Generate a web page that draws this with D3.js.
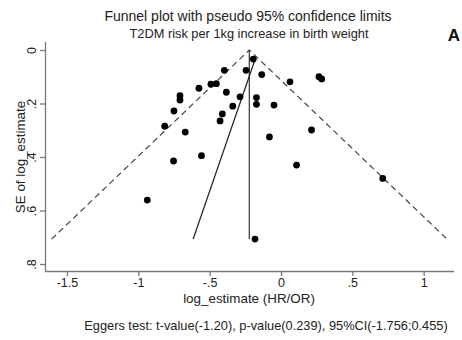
<!DOCTYPE html>
<html><head><meta charset="utf-8">
<script src="https://cdn.jsdelivr.net/npm/d3@7"></script>
<style>body{margin:0;background:#fff}svg{display:block;font-family:"Liberation Sans",Arial,sans-serif}</style>
</head><body><svg id="c" width="462" height="340"></svg>
<script>
const logEstimate = [-0.194,-0.397,-0.245,-0.135,0.063,0.266,0.285,-0.575,-0.491,-0.453,-0.383,-0.708,-0.708,-0.287,-0.172,-0.172,-0.338,-0.049,-0.750,-0.411,-0.427,-0.815,-0.671,-0.081,0.214,0.109,0.713,-0.753,-0.557,-0.937,-0.182];
const seLogEstimate = [0.034,0.076,0.076,0.092,0.119,0.100,0.108,0.143,0.128,0.126,0.158,0.171,0.187,0.175,0.178,0.203,0.210,0.206,0.228,0.239,0.265,0.285,0.307,0.325,0.299,0.430,0.480,0.415,0.395,0.561,0.707];
const pooledEstimate = -0.222;
const eggerIntercept = -0.159, eggerSlope = -0.646;
const xTicks = [-1.5,-1,-0.5,0,0.5,1];
const xTickLabels = ["-1.5","-1","-.5","0",".5","1"];
const yTicks = [0,0.2,0.4,0.6,0.8];
const yTickLabels = ["0",".2",".4",".6",".8"];

const svg = d3.select("#c");
const x = d3.scaleLinear().domain([0,1]).range([281,423.7]);
const y = d3.scaleLinear().domain([0,0.8]).range([50,264]);
const seMax = d3.max(seLogEstimate), seMin = d3.min(seLogEstimate);

// axes
const xAxis = d3.axisBottom(x).tickValues(xTicks).tickFormat((d,i)=>xTickLabels[i]).tickSize(5).tickSizeOuter(0);
const gx = svg.append("g").attr("transform","translate(0,271)").call(xAxis);
gx.select(".domain").attr("d","M45,0.5H454");
const yAxis = d3.axisLeft(y).tickValues(yTicks).tickFormat((d,i)=>yTickLabels[i]).tickSize(5).tickSizeOuter(0);
const gy = svg.append("g").attr("transform","translate(45,0)").call(yAxis);
gy.select(".domain").attr("d","M0.5,42V271");
[gx,gy].forEach(g=>{g.selectAll(".domain,line").attr("stroke","#777").attr("stroke-width",1.3);
  g.selectAll("text").attr("fill","#222").style("font-size","12.5px");});
gx.selectAll("text").attr("dy","0.71em").attr("y",7);
gy.selectAll(".tick text").attr("x",0).attr("y",0).attr("text-anchor","middle")
  .attr("transform","translate(-9,0) rotate(-90)").attr("dy","0");

// funnel lines
const lineGen = d3.line().x(d=>x(d[0])).y(d=>y(d[1]));
const funnel = [[pooledEstimate-1.96*seMax,seMax],[pooledEstimate,0],[pooledEstimate+1.96*seMax,seMax]];
svg.append("path").attr("d",lineGen(funnel)).attr("fill","none").attr("stroke","#444").attr("stroke-width",1.2).attr("stroke-dasharray","6,4");
svg.append("path").attr("d",lineGen([[pooledEstimate,0],[pooledEstimate,seMax]])).attr("fill","none").attr("stroke","#444").attr("stroke-width",1.3);
svg.append("path").attr("d",lineGen([[eggerIntercept+eggerSlope*seMin,seMin],[eggerIntercept+eggerSlope*seMax,seMax]])).attr("fill","none").attr("stroke","#222").attr("stroke-width",1.3);

// points
svg.append("g").selectAll("circle").data(logEstimate).join("circle")
  .attr("cx",d=>x(d)).attr("cy",(d,i)=>y(seLogEstimate[i])).attr("r",3.4).attr("fill","#000");

// texts
svg.append("text").attr("x",248).attr("y",20.5).attr("text-anchor","middle").style("font-size","14px").attr("fill","#222").text("Funnel plot with pseudo 95% confidence limits");
svg.append("text").attr("x",249).attr("y",38).attr("text-anchor","middle").style("font-size","12.8px").attr("fill","#222").text("T2DM risk per 1kg increase in birth weight");
svg.append("text").attr("x",454).attr("y",41).attr("text-anchor","middle").style("font-size","17px").style("font-weight","bold").attr("fill","#111").text("A");
svg.append("text").attr("x",249).attr("y",303).attr("text-anchor","middle").style("font-size","13.4px").attr("fill","#222").text("log_estimate (HR/OR)");
svg.append("text").attr("transform","translate(25,157) rotate(-90)").attr("text-anchor","middle").style("font-size","13.4px").attr("fill","#222").text("SE of log_estimate");
svg.append("text").attr("x",266).attr("y",330).attr("text-anchor","middle").style("font-size","12.8px").attr("fill","#222").text("Eggers test: t-value(-1.20), p-value(0.239), 95%CI(-1.756;0.455)");
</script></body></html>
